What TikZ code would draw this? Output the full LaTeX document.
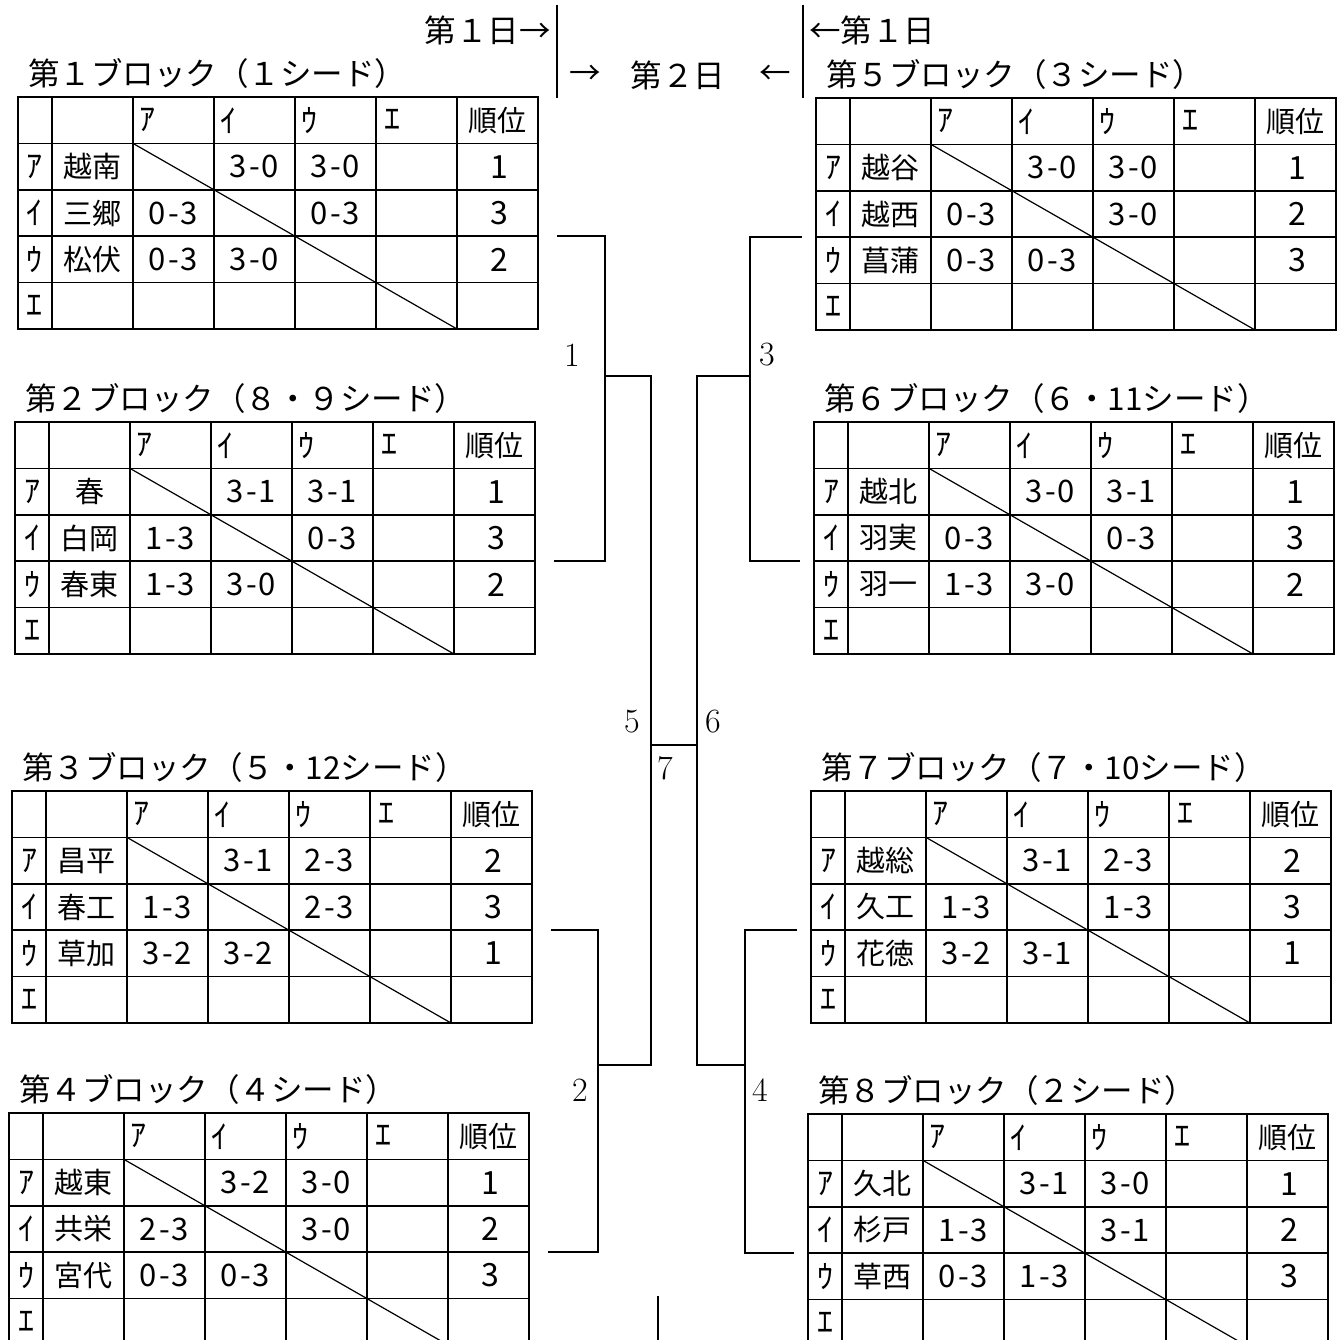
\documentclass[tikz,border=0pt]{standalone}
\usepackage{fontspec}
\newfontfamily\jp{Noto Sans CJK JP}

\tikzset{
  grid/.style={line width=1.5pt},
  diag/.style={line width=1.2pt},
  bracket/.style={line width=1.6pt},
  title/.style={anchor=west, inner sep=0pt, font=\jp\fontsize{31.5}{31.5}\selectfont},
  cell/.style={inner sep=0pt, font=\jp\fontsize{29}{29}\selectfont},
  kana/.style={inner sep=0pt, font=\jp\fontsize{32}{32}\selectfont},
  score/.style={inner sep=0pt, font=\jp\fontsize{31}{31}\selectfont},
  place/.style={inner sep=0pt, font=\jp\fontsize{32}{32}\selectfont},
  roundno/.style={inner sep=0pt, font=\fontsize{34}{34}\selectfont},
}
\def\rh{46.4}
\newcommand\gamescore[2]{#1\kern2pt-\kern2pt#2}

% one team row: row, kana, name, first score, second score, place
\newcommand\team[6]{%
  \node[kana] (\blk-k#1) at (17,{(#1+0.5)*\rh}) {#2};
  \node[cell] (\blk-n#1) at (74.5,{(#1+0.5)*\rh}) {#3};
  \ifcase#1 \or
    \node[score] (\blk-s#1a) at (236.5,{(#1+0.5)*\rh}) {#4};
    \node[score] (\blk-s#1b) at (317.5,{(#1+0.5)*\rh}) {#5};
  \or
    \node[score] (\blk-s#1a) at (155.5,{(#1+0.5)*\rh}) {#4};
    \node[score] (\blk-s#1b) at (317.5,{(#1+0.5)*\rh}) {#5};
  \or
    \node[score] (\blk-s#1a) at (155.5,{(#1+0.5)*\rh}) {#4};
    \node[score] (\blk-s#1b) at (236.5,{(#1+0.5)*\rh}) {#5};
  \fi
  \node[place] (\blk-p#1) at (481,{(#1+0.5)*\rh}) {#6};}

% one block table: name, left, top, title, rows
\newcommand\leagueblock[5]{%
  \begin{scope}[shift={(#2,#3)}]
    \def\blk{#1}
    \draw[grid] (0,0) rectangle (520,5*\rh);
    \foreach \c in {34,115,196,277,358,439}
      \draw[grid] (\c,0) -- (\c,5*\rh);
    \foreach \r in {1,...,4}
      \draw[grid] (0,\r*\rh) -- (520,\r*\rh);
    \draw[diag] (115,\rh) -- (439,5*\rh);
    \node[title] (#1-title) at (10,-23) {#4};
    \node[kana,anchor=west] (#1-ha) at (121,0.5*\rh) {ｱ};
    \node[kana,anchor=west] (#1-hi) at (202,0.5*\rh) {ｲ};
    \node[kana,anchor=west] (#1-hu) at (283,0.5*\rh) {ｳ};
    \node[kana,anchor=west] (#1-he) at (366,0.5*\rh) {ｴ};
    \node[cell] (#1-rank) at (479,0.5*\rh) {順位};
    \node[kana] (#1-k4) at (17,4.5*\rh) {ｴ};
    \coordinate (#1-out) at (539,3*\rh);
    \coordinate (#1-in) at (-14,3*\rh);
    #5
  \end{scope}}

\begin{document}
\begin{tikzpicture}[x=1pt,y=-1pt]
    \useasboundingbox (0,0) rectangle (1337,1340);
    \fill[white] (0,0) rectangle (1337,1340);
    \clip (0,0) rectangle (1337,1340);

    % days
    \node[title,anchor=east] (day1l) at (551,30) {第１日→};
    \node[title,anchor=west] (day1r) at (809,30) {←第１日};
    \node[title,anchor=center] (day2) at (678,75) {第２日};
    \node[title,anchor=center] (arrl) at (585,75) {→};
    \node[title,anchor=center] (arrr) at (775,75) {←};
    \coordinate (lt) at (557,5);
    \coordinate (lb) at (557,98);
    \coordinate (rt) at (803,5);
    \coordinate (rb) at (803,98);
    \draw[bracket] (lt) -- (lb);
    \draw[bracket] (rt) -- (rb);

    % left blocks
    \leagueblock{b1}{18}{97}{第１ブロック（１シード）}{
      \team{1}{ｱ}{越南}{\gamescore30}{\gamescore30}{1}
      \team{2}{ｲ}{三郷}{\gamescore03}{\gamescore03}{3}
      \team{3}{ｳ}{松伏}{\gamescore03}{\gamescore30}{2}}
    \leagueblock{b2}{15}{422}{第２ブロック（８・９シード）}{
      \team{1}{ｱ}{春}{\gamescore31}{\gamescore31}{1}
      \team{2}{ｲ}{白岡}{\gamescore13}{\gamescore03}{3}
      \team{3}{ｳ}{春東}{\gamescore13}{\gamescore30}{2}}
    \leagueblock{b3}{12}{791}{第３ブロック（５・12シード）}{
      \team{1}{ｱ}{昌平}{\gamescore31}{\gamescore23}{2}
      \team{2}{ｲ}{春工}{\gamescore13}{\gamescore23}{3}
      \team{3}{ｳ}{草加}{\gamescore32}{\gamescore32}{1}}
    \leagueblock{b4}{9}{1113}{第４ブロック（４シード）}{
      \team{1}{ｱ}{越東}{\gamescore32}{\gamescore30}{1}
      \team{2}{ｲ}{共栄}{\gamescore23}{\gamescore30}{2}
      \team{3}{ｳ}{宮代}{\gamescore03}{\gamescore03}{3}}

    % right blocks
    \leagueblock{b5}{816}{98}{第５ブロック（３シード）}{
      \team{1}{ｱ}{越谷}{\gamescore30}{\gamescore30}{1}
      \team{2}{ｲ}{越西}{\gamescore03}{\gamescore30}{2}
      \team{3}{ｳ}{菖蒲}{\gamescore03}{\gamescore03}{3}}
    \leagueblock{b6}{814}{422}{第６ブロック（６・11シード）}{
      \team{1}{ｱ}{越北}{\gamescore30}{\gamescore31}{1}
      \team{2}{ｲ}{羽実}{\gamescore03}{\gamescore03}{3}
      \team{3}{ｳ}{羽一}{\gamescore13}{\gamescore30}{2}}
    \leagueblock{b7}{811}{791}{第７ブロック（７・10シード）}{
      \team{1}{ｱ}{越総}{\gamescore31}{\gamescore23}{2}
      \team{2}{ｲ}{久工}{\gamescore13}{\gamescore13}{3}
      \team{3}{ｳ}{花徳}{\gamescore32}{\gamescore31}{1}}
    \leagueblock{b8}{808}{1114}{第８ブロック（２シード）}{
      \team{1}{ｱ}{久北}{\gamescore31}{\gamescore30}{1}
      \team{2}{ｲ}{杉戸}{\gamescore13}{\gamescore31}{2}
      \team{3}{ｳ}{草西}{\gamescore03}{\gamescore13}{3}}

    % bracket
    \coordinate (j1) at (605,376);
    \coordinate (j3) at (750,376);
    \coordinate (j5) at (651,745);
    \coordinate (j6) at (697,745);
    \coordinate (j2) at (598,1065);
    \coordinate (j4) at (745,1065);
    \draw[bracket] (b1-out) -| (j1) |- (b2-out);
    \draw[bracket] (b3-out) -| (j2) |- (b4-out);
    \draw[bracket] (b5-in) -| (j3) |- (b6-in);
    \draw[bracket] (b7-in) -| (j4) |- (b8-in);
    \draw[bracket] (j1) -| (j5) |- (j2);
    \draw[bracket] (j3) -| (j6) |- (j4);
    \draw[bracket] (j5) -- (j6);
    \coordinate (e1) at (658,1296);
    \coordinate (e2) at (658,1345);
    \draw[bracket] (e1) -- (e2);

    \node[roundno] (r1) at (572,355) {1};
    \node[roundno] (r3) at (767,355) {3};
    \node[roundno] (r2) at (580,1090) {2};
    \node[roundno] (r4) at (760,1090) {4};
    \node[roundno] (r5) at (632,722) {5};
    \node[roundno] (r6) at (713,722) {6};
    \node[roundno] (r7) at (665,768) {7};
\end{tikzpicture}
\end{document}
